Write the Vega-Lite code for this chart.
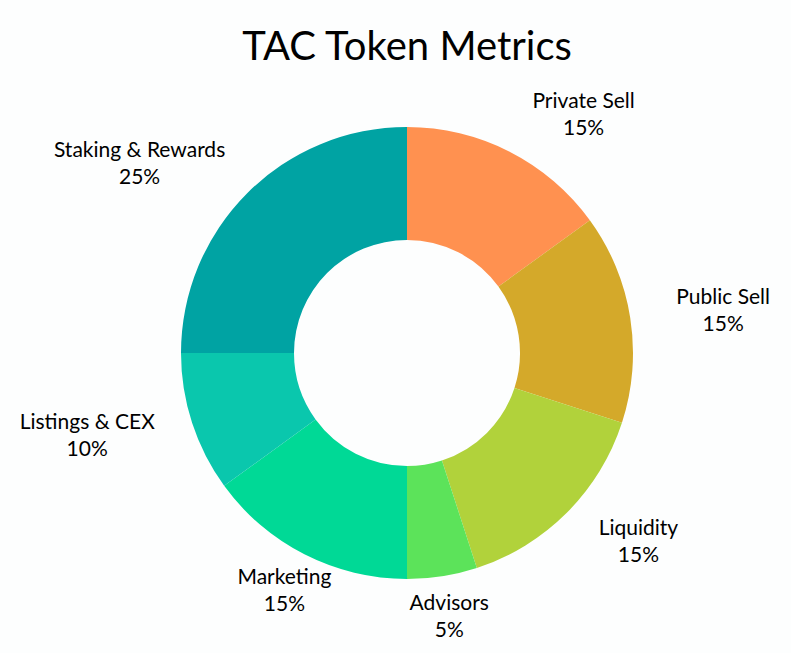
{
  "$schema": "https://vega.github.io/schema/vega-lite/v6.json",
  "width": 768,
  "height": 546,
  "autosize": {"type": "none"},
  "padding": {"top": 80, "left": 23, "right": 0, "bottom": 27},
  "background": "#fdfefe",
  "title": {"text": "TAC Token Metrics", "fontSize": 40, "font": "Lato", "fontWeight": "normal", "color": "#000000", "anchor": "middle", "offset": 12},
  "config": {"view": {"stroke": null}},
  "data": {"values": [
    {"category": "Private Sell", "value": 15, "order": 1},
    {"category": "Public Sell", "value": 15, "order": 2},
    {"category": "Liquidity", "value": 15, "order": 3},
    {"category": "Advisors", "value": 5, "order": 4},
    {"category": "Marketing", "value": 15, "order": 5},
    {"category": "Listings & CEX", "value": 10, "order": 6},
    {"category": "Staking & Rewards", "value": 25, "order": 7}
  ]},
  "transform": [{"calculate": "datum.category + '\\n' + datum.value + '%'", "as": "label"}],
  "encoding": {
    "theta": {"field": "value", "type": "quantitative", "stack": true},
    "order": {"field": "order", "type": "quantitative"}
  },
  "layer": [
    {
      "mark": {"type": "arc", "outerRadius": 226, "innerRadius": 113},
      "encoding": {
        "color": {
          "field": "category", "type": "nominal", "legend": null,
          "scale": {
            "domain": ["Private Sell", "Public Sell", "Liquidity", "Advisors", "Marketing", "Listings & CEX", "Staking & Rewards"],
            "range": ["#ff9150", "#d4a92a", "#b1d23b", "#5ce35a", "#00d996", "#0ac7ad", "#00a3a3"]
          }
        }
      }
    },
    {
      "mark": {
        "type": "text", "radius": 242, "font": "Lato", "fontSize": 21, "lineBreak": "\n", "lineHeight": 27, "color": "#000000",
        "align": "center", "baseline": "middle",
        "dx": {"expr": "28*sin(PI*(datum.value_start+datum.value_end)/100) + (sin(PI*(datum.value_start+datum.value_end)/100) > 0.3 ? 1 : (sin(PI*(datum.value_start+datum.value_end)/100) < -0.5 ? -1 : 0)) * 4.5 * length(datum.category)"},
        "dy": {"expr": "-13 - 25*cos(PI*(datum.value_start+datum.value_end)/100)"}
      },
      "encoding": {"text": {"field": "label", "type": "nominal"}}
    }
  ]
}
